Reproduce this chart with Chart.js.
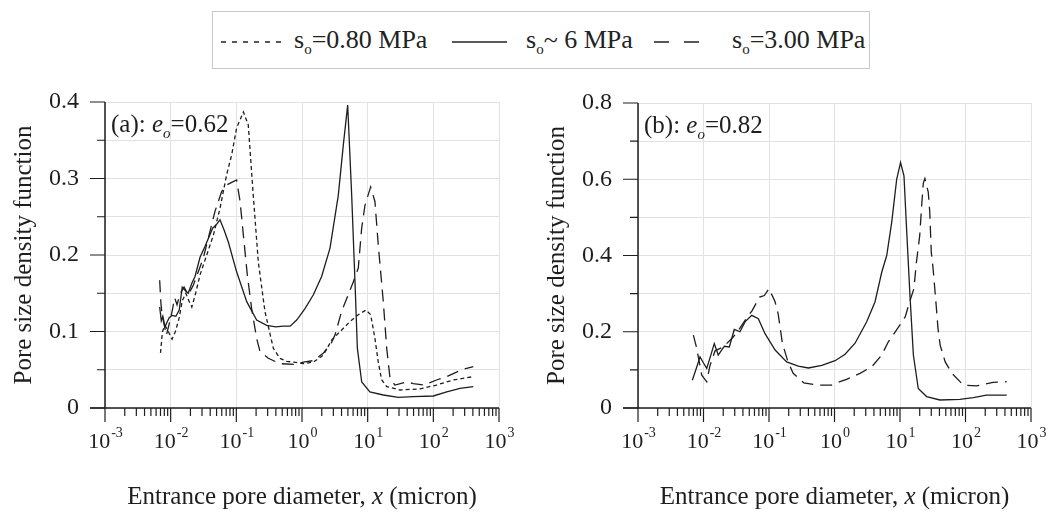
<!DOCTYPE html>
<html>
<head>
<meta charset="utf-8">
<script src="https://cdn.jsdelivr.net/npm/chart.js@4/dist/chart.umd.min.js"></script>
<style>
  body { margin: 0; background: #fff; width: 1054px; height: 516px; position: relative; overflow: hidden; font-family: "Liberation Serif", "DejaVu Serif", serif; color: #222; }
  .panel { position: absolute; top: 0; width: 527px; height: 516px; }
  #legend { position: absolute; left: 212px; top: 11px; width: 656px; height: 56px; border: 1px solid #c8c8c8; }
  #legend svg { position: absolute; top: 28px; }
  #legend .txt { position: absolute; top: 13px; font-size: 26px; line-height: 30px; white-space: nowrap; }
  #legend sub { font-size: 15px; vertical-align: -6px; }
</style>
</head>
<body>
<div id="legend">
  <svg style="left:8px" width="60" height="4"><line x1="0" y1="2" x2="60" y2="2" stroke="#222" stroke-width="1.4" stroke-dasharray="5,6"/></svg>
  <span class="txt" style="left:81px">s<sub>o</sub>=0.80 MPa</span>
  <svg style="left:239px" width="55" height="4"><line x1="0" y1="2" x2="55" y2="2" stroke="#222" stroke-width="1.4"/></svg>
  <span class="txt" style="left:313px">s<sub>o</sub>~ 6 MPa</span>
  <svg style="left:441px" width="45" height="4"><line x1="0" y1="2" x2="45" y2="2" stroke="#222" stroke-width="1.4" stroke-dasharray="15,15"/></svg>
  <span class="txt" style="left:519px">s<sub>o</sub>=3.00 MPa</span>
</div>
<div class="panel" style="left:0"><canvas id="chartA" width="527" height="516"></canvas></div>
<div class="panel" style="left:527px"><canvas id="chartB" width="527" height="516"></canvas></div>
<script>
// tick labels
const xTickExps = [-3, -2, -1, 0, 1, 2, 3];
const aYTicks = [0, 0.1, 0.2, 0.3, 0.4];
const bYTicks = [0, 0.2, 0.4, 0.6, 0.8];

// panel (a), e_o = 0.62
const aX080 = [0.0070, 0.0075, 0.0082, 0.0092, 0.0105, 0.0118, 0.0135, 0.0150, 0.0170, 0.0190, 0.0210, 0.0240, 0.0280, 0.0354, 0.0447, 0.0564, 0.0712, 0.085, 0.101, 0.128, 0.152, 0.181, 0.216, 0.273, 0.366, 0.46, 0.585, 0.74, 1.05, 1.49, 2.11, 2.84, 4.02, 5.38, 7.2, 9.4, 11.1, 12.9, 14.5, 16.3, 19.5, 31, 62.7, 112, 200, 406];
const aY080 = [0.072, 0.100, 0.108, 0.100, 0.090, 0.100, 0.118, 0.140, 0.150, 0.140, 0.132, 0.150, 0.174, 0.200, 0.226, 0.261, 0.305, 0.331, 0.366, 0.387, 0.370, 0.278, 0.191, 0.126, 0.078, 0.065, 0.061, 0.060, 0.058, 0.060, 0.069, 0.089, 0.102, 0.113, 0.122, 0.128, 0.122, 0.091, 0.060, 0.037, 0.028, 0.0235, 0.025, 0.030, 0.0366, 0.041];

const aX6 = [0.0068, 0.0072, 0.0076, 0.0082, 0.0088, 0.0095, 0.0105, 0.012, 0.0135, 0.015, 0.0165, 0.0185, 0.021, 0.0235, 0.028, 0.0333, 0.0436, 0.05, 0.0564, 0.0655, 0.0755, 0.101, 0.144, 0.204, 0.29, 0.40, 0.52, 0.66, 0.83, 1.11, 1.49, 1.99, 2.67, 3.57, 4.26, 4.96, 5.71, 6.41, 6.97, 8.12, 10.8, 17.3, 29.3, 49.6, 100, 160, 255, 406];
const aY6 = [0.132, 0.114, 0.120, 0.106, 0.112, 0.118, 0.121, 0.120, 0.128, 0.158, 0.154, 0.150, 0.163, 0.172, 0.197, 0.211, 0.235, 0.240, 0.246, 0.232, 0.217, 0.178, 0.139, 0.115, 0.108, 0.106, 0.107, 0.107, 0.115, 0.130, 0.148, 0.172, 0.209, 0.278, 0.344, 0.396, 0.278, 0.165, 0.078, 0.034, 0.021, 0.017, 0.014, 0.0148, 0.0157, 0.021, 0.0257, 0.028];

const aX300 = [0.0068, 0.0071, 0.0074, 0.0080, 0.0086, 0.0095, 0.0105, 0.0115, 0.0125, 0.0140, 0.0160, 0.0185, 0.022, 0.0314, 0.0473, 0.0598, 0.0697, 0.085, 0.101, 0.114, 0.128, 0.147, 0.171, 0.204, 0.229, 0.307, 0.46, 0.75, 1.05, 1.5, 2.1, 2.8, 3.2, 4.0, 4.8, 6.05, 7.2, 8.1, 9.1, 11.1, 12.9, 14.5, 17.3, 19.5, 21.9, 26, 39, 49.6, 71, 112, 160, 270, 406];
const aY300 = [0.167, 0.137, 0.122, 0.108, 0.095, 0.110, 0.126, 0.144, 0.135, 0.150, 0.158, 0.148, 0.160, 0.196, 0.257, 0.283, 0.291, 0.295, 0.298, 0.270, 0.226, 0.174, 0.130, 0.091, 0.074, 0.065, 0.058, 0.057, 0.060, 0.062, 0.0715, 0.085, 0.096, 0.126, 0.143, 0.165, 0.183, 0.235, 0.265, 0.289, 0.270, 0.213, 0.139, 0.078, 0.039, 0.030, 0.034, 0.032, 0.030, 0.0366, 0.041, 0.050, 0.054];

// panel (b), e_o = 0.82
const bX6 = [0.00675, 0.0078, 0.00885, 0.0100, 0.0112, 0.0130, 0.0146, 0.0168, 0.0208, 0.0248, 0.0295, 0.036, 0.043, 0.0545, 0.0688, 0.0869, 0.124, 0.186, 0.28, 0.40, 0.64, 1.02, 1.45, 2.06, 3.1, 4.15, 5.26, 6.27, 7.47, 8.9, 10.2, 11.5, 12.6, 14.2, 16, 19, 25.5, 40.7, 82, 132, 209, 426];
const bY6 = [0.073, 0.105, 0.134, 0.118, 0.104, 0.140, 0.169, 0.139, 0.162, 0.160, 0.206, 0.200, 0.226, 0.243, 0.234, 0.195, 0.152, 0.121, 0.110, 0.105, 0.112, 0.124, 0.141, 0.170, 0.226, 0.278, 0.356, 0.400, 0.487, 0.600, 0.644, 0.609, 0.470, 0.295, 0.139, 0.051, 0.030, 0.021, 0.0227, 0.027, 0.034, 0.034];

const bX300 = [0.0070, 0.0078, 0.0094, 0.0105, 0.0112, 0.0125, 0.0150, 0.0200, 0.0280, 0.033, 0.045, 0.055, 0.072, 0.085, 0.100, 0.123, 0.138, 0.150, 0.160, 0.195, 0.234, 0.34, 0.54, 0.90, 1.21, 1.53, 2.45, 3.7, 5.26, 6.6, 9.3, 12, 14, 16.3, 17.8, 20, 21.4, 22.7, 24, 27, 28.5, 30, 32, 36, 38, 41, 49, 62, 93, 148, 263, 426];
const bY300 = [0.191, 0.160, 0.086, 0.075, 0.069, 0.110, 0.150, 0.160, 0.185, 0.200, 0.235, 0.255, 0.291, 0.295, 0.313, 0.280, 0.247, 0.204, 0.170, 0.121, 0.091, 0.066, 0.060, 0.060, 0.069, 0.075, 0.091, 0.108, 0.139, 0.173, 0.210, 0.239, 0.278, 0.313, 0.382, 0.452, 0.530, 0.590, 0.602, 0.566, 0.513, 0.409, 0.366, 0.261, 0.209, 0.165, 0.121, 0.091, 0.060, 0.058, 0.067, 0.069];

const INK = '#1e1e1e';
const SERIF = '"Liberation Serif", "DejaVu Serif", serif';

const pts = (xs, ys) => xs.map((x, i) => ({ x: x, y: ys[i] }));

const isDecade = v => Math.abs(Math.log10(v) - Math.round(Math.log10(v))) < 1e-6;

// draws axis lines, ticks, tick labels, titles and panel label the way the paper figure does
const paperAxes = {
  id: 'paperAxes',
  afterDraw(chart, args, opts) {
    const { ctx, chartArea: a, scales: { x, y } } = chart;
    ctx.save();
    ctx.strokeStyle = INK;
    ctx.fillStyle = INK;
    ctx.lineWidth = 1.5;

    ctx.beginPath();
    ctx.moveTo(a.left, a.top);
    ctx.lineTo(a.left, a.bottom);
    ctx.moveTo(a.left - 15, a.bottom);
    ctx.lineTo(a.right, a.bottom);
    ctx.stroke();

    // x ticks
    ctx.lineWidth = 1.2;
    ctx.beginPath();
    for (let e = -3; e <= 3; e++) {
      const px = x.getPixelForValue(Math.pow(10, e));
      ctx.moveTo(px, a.bottom);
      ctx.lineTo(px, a.bottom + 14);
      if (e < 3) {
        for (let m = 2; m <= 9; m++) {
          const mx = x.getPixelForValue(m * Math.pow(10, e));
          ctx.moveTo(mx, a.bottom);
          ctx.lineTo(mx, a.bottom + 8);
        }
      }
    }
    // y ticks
    const step = opts.yTicks[1] - opts.yTicks[0];
    opts.yTicks.forEach((v, i) => {
      const py = y.getPixelForValue(v);
      ctx.moveTo(a.left - 15, py);
      ctx.lineTo(a.left, py);
      if (i < opts.yTicks.length - 1) {
        const my = y.getPixelForValue(v + step / 2);
        ctx.moveTo(a.left - 8, my);
        ctx.lineTo(a.left, my);
      }
    });
    ctx.stroke();

    // y tick labels
    ctx.font = '24px ' + SERIF;
    ctx.textAlign = 'right';
    ctx.textBaseline = 'middle';
    opts.yTicks.forEach(v => {
      ctx.fillText(v === 0 ? '0' : v.toFixed(1), a.left - 26, y.getPixelForValue(v));
    });

    // x tick labels: 10 with superscript exponent
    ctx.textBaseline = 'alphabetic';
    ctx.textAlign = 'left';
    xTickExps.forEach(e => {
      const px = x.getPixelForValue(Math.pow(10, e));
      ctx.font = '22px ' + SERIF;
      const wb = ctx.measureText('10').width;
      ctx.font = '14px ' + SERIF;
      const sup = String(e);
      const ws = ctx.measureText(sup).width;
      const x0 = px - (wb + ws) / 2;
      ctx.font = '22px ' + SERIF;
      ctx.fillText('10', x0, a.bottom + 40);
      ctx.font = '14px ' + SERIF;
      ctx.fillText(sup, x0 + wb + 1, a.bottom + 29);
    });

    // x title
    const parts = [['Entrance pore diameter, ', 'normal'], ['x', 'italic'], [' (micron)', 'normal']];
    let total = 0;
    parts.forEach(p => { ctx.font = p[1] + ' 25px ' + SERIF; total += ctx.measureText(p[0]).width; });
    let cx = (a.left + a.right) / 2 - total / 2;
    parts.forEach(p => {
      ctx.font = p[1] + ' 25px ' + SERIF;
      ctx.fillText(p[0], cx, a.bottom + 96);
      cx += ctx.measureText(p[0]).width;
    });

    // y title
    ctx.save();
    ctx.translate(a.left - 74, (a.top + a.bottom) / 2);
    ctx.rotate(-Math.PI / 2);
    ctx.textAlign = 'center';
    ctx.font = '25px ' + SERIF;
    ctx.fillText('Pore size density function', 0, 0);
    ctx.restore();

    // panel label, e.g. (a): e_o=0.62
    let lx = a.left + 6;
    const ly = a.top + 30;
    ctx.font = '25px ' + SERIF;
    ctx.fillText(opts.tag + ': ', lx, ly);
    lx += ctx.measureText(opts.tag + ': ').width;
    ctx.font = 'italic 25px ' + SERIF;
    ctx.fillText('e', lx, ly);
    lx += ctx.measureText('e').width;
    ctx.font = 'italic 15px ' + SERIF;
    ctx.fillText('o', lx, ly + 6);
    lx += ctx.measureText('o').width;
    ctx.font = '25px ' + SERIF;
    ctx.fillText('=' + opts.e0, lx, ly);

    ctx.restore();
  }
};

function makeChart(id, sets, yMax, yStep, pad, tag, e0, yTicks) {
  return new Chart(document.getElementById(id), {
    type: 'line',
    data: {
      datasets: sets.map(s => ({
        label: s.label,
        data: s.data,
        borderColor: INK,
        borderWidth: 1.3,
        borderDash: s.dash,
        pointRadius: 0,
        tension: 0,
        fill: false
      }))
    },
    options: {
      responsive: false,
      animation: false,
      layout: { padding: pad },
      plugins: {
        legend: { display: false },
        tooltip: { enabled: false },
        paperAxes: { tag: tag, e0: e0, yTicks: yTicks }
      },
      scales: {
        x: {
          type: 'logarithmic',
          min: 0.001,
          max: 1000,
          ticks: { display: false },
          border: { display: false },
          grid: {
            drawTicks: false,
            lineWidth: 1,
            color: c => (c.tick && isDecade(c.tick.value)) ? '#e2e2e2' : 'rgba(0,0,0,0)'
          }
        },
        y: {
          min: 0,
          max: yMax,
          ticks: { display: false, stepSize: yStep },
          border: { display: false },
          grid: { drawTicks: false, lineWidth: 1, color: '#e2e2e2' }
        }
      }
    },
    plugins: [paperAxes]
  });
}

makeChart('chartA', [
  { label: 'so=0.80 MPa', data: pts(aX080, aY080), dash: [4, 3] },
  { label: 'so~ 6 MPa', data: pts(aX6, aY6), dash: [] },
  { label: 'so=3.00 MPa', data: pts(aX300, aY300), dash: [12, 7] }
], 0.4, 0.05, { left: 105, right: 28, top: 102, bottom: 108 }, '(a)', '0.62', aYTicks);

makeChart('chartB', [
  { label: 'so~ 6 MPa', data: pts(bX6, bY6), dash: [] },
  { label: 'so=3.00 MPa', data: pts(bX300, bY300), dash: [12, 7] }
], 0.8, 0.1, { left: 111, right: 23, top: 103, bottom: 108 }, '(b)', '0.82', bYTicks);
</script>
</body>
</html>
